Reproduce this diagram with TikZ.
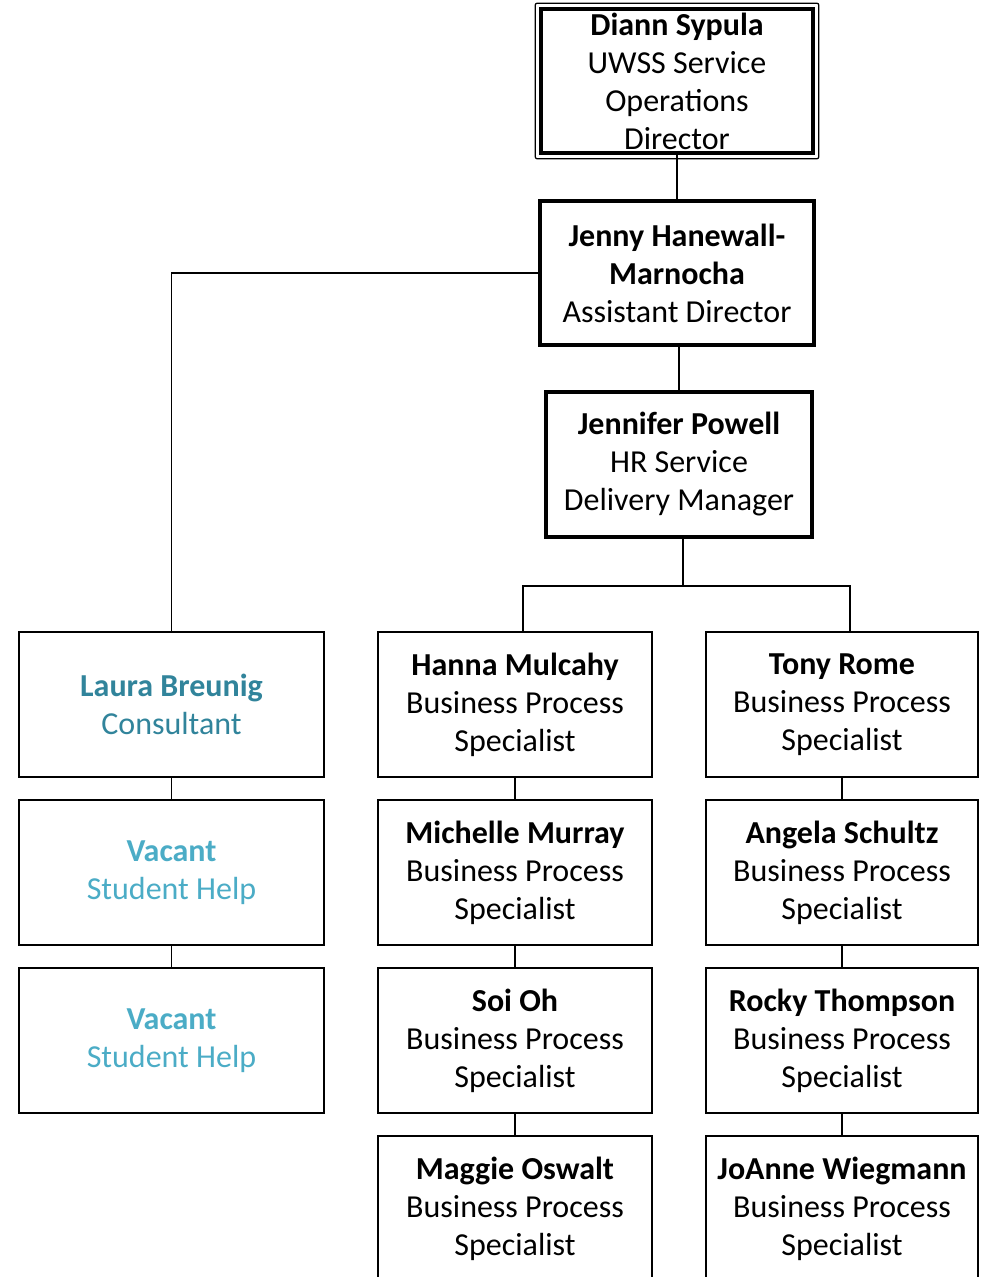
\documentclass[tikz,border=0pt]{standalone}
\usepackage{fontspec}
\setmainfont{Carlito}
\usepackage{xcolor}
\definecolor{teal1}{HTML}{31849B}
\definecolor{teal2}{HTML}{4BACC6}

\begin{document}
\begin{tikzpicture}[x=0.5pt,y=-0.5pt,
  box/.style={draw,line width=1pt,rectangle,align=center,inner sep=0pt,
    font=\fontsize{16}{19}\selectfont,minimum height=72.5pt},
  mid/.style={box,minimum width=137pt},
  side/.style={box,minimum width=152.5pt},
  boss/.style={box,line width=1.8pt,minimum width=137pt,minimum height=72pt},
  link/.style={line width=0.8pt}]
\useasboundingbox (0,0) rectangle (980,1277);
\node (ds) at (677,81) [boss,minimum width=136pt] {\textbf{Diann Sypula}\\UWSS Service\\Operations\\Director};
\draw [line width=0.6pt,rounded corners=1pt] ([shift={(-4,-4)}]ds.north west) rectangle ([shift={(4,4)}]ds.south east);
\node (jh) at (677,273) [boss] {\textbf{Jenny Hanewall-}\\\textbf{Marnocha}\\Assistant Director};
\node (jp) at (679,464.5) [boss,minimum width=133pt,minimum height=72.5pt] {\textbf{Jennifer Powell}\\HR Service\\Delivery Manager};
%
\node (lb) at (171.5,704.5) [side,text=teal1] {\textbf{Laura Breunig}\\Consultant};
\node (v1) at (171.5,872.5) [side,text=teal2] {\textbf{Vacant}\\Student Help};
\node (v2) at (171.5,1040.5) [side,text=teal2] {\textbf{Vacant}\\Student Help};
%
\node (hm) at (515,704.5) [mid] {\textbf{Hanna Mulcahy}\\Business Process\\Specialist};
\node (mm) at (515,872.5) [mid] {\textbf{Michelle Murray}\\Business Process\\Specialist};
\node (so) at (515,1040.5) [mid] {\textbf{Soi Oh}\\Business Process\\Specialist};
\node (mo) at (515,1208.5) [mid] {\textbf{Maggie Oswalt}\\Business Process\\Specialist};
%
\node (tr) at (842,704.5) [mid,minimum width=136pt] {\textbf{Tony Rome}\\Business Process\\Specialist};
\node (as) at (842,872.5) [mid,minimum width=136pt] {\textbf{Angela Schultz}\\Business Process\\Specialist};
\node (rt) at (842,1040.5) [mid,minimum width=136pt] {\textbf{Rocky Thompson}\\Business Process\\Specialist};
\node (jw) at (842,1208.5) [mid,minimum width=136pt] {\textbf{JoAnne Wiegmann}\\Business Process\\Specialist};
%%
\draw [link] (ds.south) -- (jh.north);
\draw [link] (jh.west) -| (lb.north);
\draw [link] (jp.north |- jh.south) -- (jp.north);
\draw [link] ([xshift=2pt]jp.south) -- ++(0,47) coordinate (bus);
\draw [link] (bus) -| ([xshift=4pt]hm.north);
\draw [link] (bus) -| ([xshift=4pt]tr.north);
%
\foreach \a/\b in {lb/v1,v1/v2,hm/mm,mm/so,so/mo,tr/as,as/rt,rt/jw}
  \draw [link] (\a.south) -- (\b.north);
\end{tikzpicture}
\end{document}
